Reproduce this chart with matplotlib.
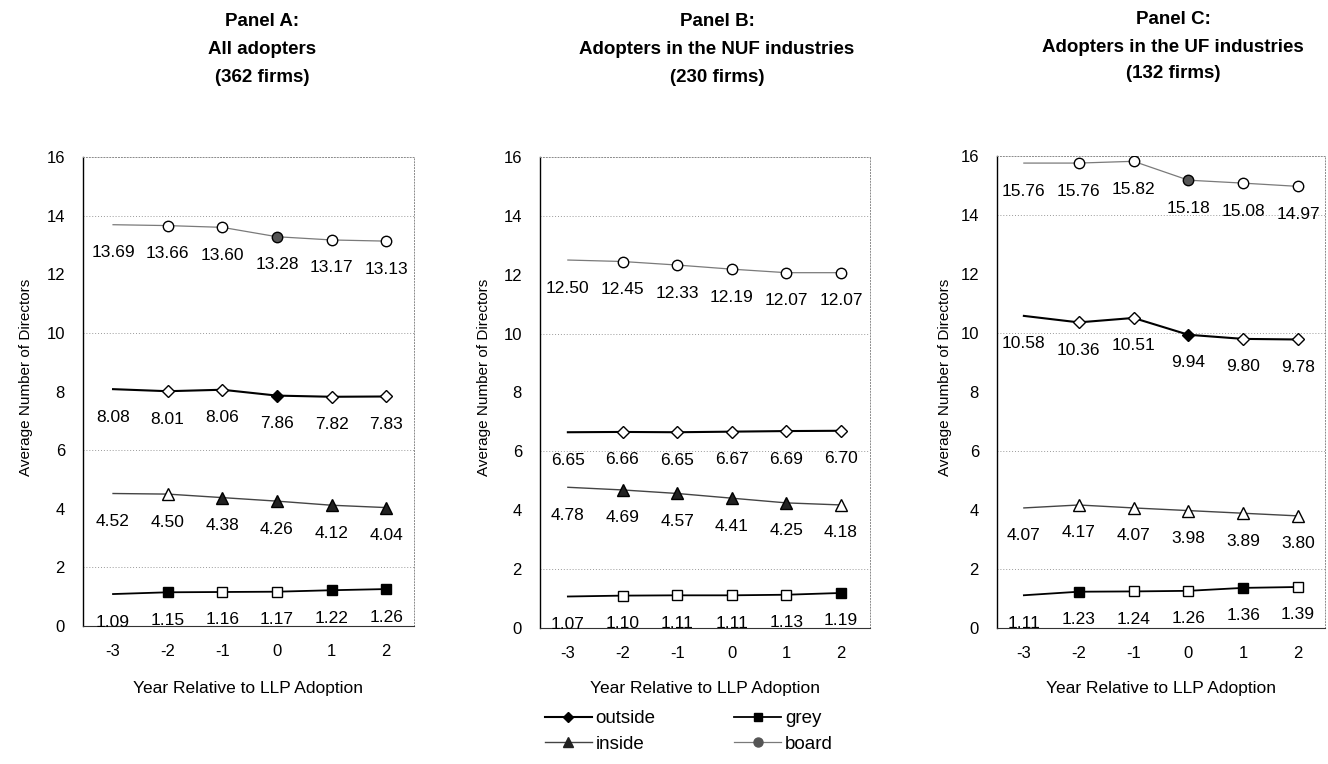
import matplotlib
matplotlib.use("Agg")
import matplotlib.pyplot as plt
from matplotlib.lines import Line2D

plt.rcParams['font.family'] = ['Liberation Sans', 'DejaVu Sans']

years = [-3, -2, -1, 0, 1, 2]
year_labels = ["-3", "-2", "-1", "0", "1", "2"]

titles = [["Panel A:", "All adopters", "(362 firms)"],
          ["Panel B:", "Adopters in the NUF industries", "(230 firms)"],
          ["Panel C:", "Adopters in the UF industries", "(132 firms)"]]

# Panel A: all adopters
a_board = [13.69, 13.66, 13.60, 13.28, 13.17, 13.13]
a_outside = [8.08, 8.01, 8.06, 7.86, 7.82, 7.83]
a_inside = [4.52, 4.50, 4.38, 4.26, 4.12, 4.04]
a_grey = [1.09, 1.15, 1.16, 1.17, 1.22, 1.26]
# Panel B: NUF industries
b_board = [12.50, 12.45, 12.33, 12.19, 12.07, 12.07]
b_outside = [6.65, 6.66, 6.65, 6.67, 6.69, 6.70]
b_inside = [4.78, 4.69, 4.57, 4.41, 4.25, 4.18]
b_grey = [1.07, 1.10, 1.11, 1.11, 1.13, 1.19]
# Panel C: UF industries
c_board = [15.76, 15.76, 15.82, 15.18, 15.08, 14.97]
c_outside = [10.58, 10.36, 10.51, 9.94, 9.80, 9.78]
c_inside = [4.07, 4.17, 4.07, 3.98, 3.89, 3.80]
c_grey = [1.11, 1.23, 1.24, 1.26, 1.36, 1.39]

# filled marker = significant difference (years -2..2; no marker at -3)
a_board_sig = [0, 0, 1, 0, 0]
a_outside_sig = [0, 0, 1, 0, 0]
a_inside_sig = [0, 1, 1, 1, 1]
a_grey_sig = [1, 0, 0, 1, 1]
b_board_sig = [0, 0, 0, 0, 0]
b_outside_sig = [0, 0, 0, 0, 0]
b_inside_sig = [1, 1, 1, 1, 0]
b_grey_sig = [0, 0, 0, 0, 1]
c_board_sig = [0, 0, 1, 0, 0]
c_outside_sig = [0, 0, 1, 0, 0]
c_inside_sig = [0, 0, 0, 0, 0]
c_grey_sig = [1, 0, 0, 1, 0]

panels = [
    dict(board=a_board, outside=a_outside, inside=a_inside, grey=a_grey,
         board_sig=a_board_sig, outside_sig=a_outside_sig, inside_sig=a_inside_sig, grey_sig=a_grey_sig),
    dict(board=b_board, outside=b_outside, inside=b_inside, grey=b_grey,
         board_sig=b_board_sig, outside_sig=b_outside_sig, inside_sig=b_inside_sig, grey_sig=b_grey_sig),
    dict(board=c_board, outside=c_outside, inside=c_inside, grey=c_grey,
         board_sig=c_board_sig, outside_sig=c_outside_sig, inside_sig=c_inside_sig, grey_sig=c_grey_sig),
]

styles = {
    'board':   dict(color='#7a7a7a', lw=0.9, marker='o', fill='#555555'),
    'outside': dict(color='black', lw=1.5, marker='D', fill='black'),
    'inside':  dict(color='#444444', lw=1.0, marker='^', fill='#222222'),
    'grey':    dict(color='black', lw=1.3, marker='s', fill='black'),
}
msize = {'board': 7.5, 'outside': 6.5, 'inside': 8, 'grey': 7}

W, H = 1328, 764
fig = plt.figure(figsize=(W / 100, H / 100), dpi=100)

# axes boxes in pixels: left, right, top, bottom
boxes = [(83, 414, 157, 626), (540, 870, 157, 628), (997, 1325, 156, 628)]
xlims = [(-3.55, 2.51), (-3.51, 2.53), (-3.49, 2.49)]
title_x = [262, 717, 1173]
title_y = [(22, 50, 78), (22, 50, 78), (20, 47, 73)]
ylabel_x = [26, 484, 945]
xlabel_x = [248, 705, 1161]

for i, (p, (l, r, t, b)) in enumerate(zip(panels, boxes)):
    ax = fig.add_axes([l / W, 1 - b / H, (r - l) / W, (b - t) / H])
    ax.set_xlim(*xlims[i])
    ax.set_ylim(0, 16)
    ax.set_yticks(range(0, 17, 2))
    ax.set_xticks(years)
    ax.set_xticklabels(year_labels)
    ax.tick_params(length=0, labelsize=12, colors='black')
    ax.tick_params(axis='y', pad=13)
    ax.tick_params(axis='x', pad=13)
    for yv in [2, 6, 10, 14]:
        ax.axhline(yv, color='#9a9a9a', lw=0.7, ls=(0, (1, 2)), zorder=0)
    ax.spines['left'].set_color('black')
    ax.spines['left'].set_linewidth(1.0)
    ax.spines['bottom'].set_color('#333333')
    ax.spines['bottom'].set_linewidth(0.8)
    for s in ['top', 'right']:
        ax.spines[s].set_color('#8a8a8a')
        ax.spines[s].set_linewidth(0.7)
        ax.spines[s].set_linestyle((0, (1, 2)))

    for key in ['board', 'outside', 'inside', 'grey']:
        st = styles[key]
        vals = p[key]
        sig = p[key + '_sig']
        ax.plot(years, vals, color=st['color'], lw=st['lw'], zorder=2)
        for xv, yv, s in zip(years[1:], vals[1:], sig):
            ax.plot([xv], [yv], marker=st['marker'], ms=msize[key],
                    mfc=st['fill'] if s else 'white', mec='black', mew=1.0,
                    ls='none', zorder=3)
        for xv, yv in zip(years, vals):
            ax.annotate(f"{yv:.2f}", (xv, yv), textcoords='offset pixels',
                        xytext=(0, -28), ha='center', va='center', fontsize=12.5)

    fig.text(ylabel_x[i] / W, 1 - 377 / H, "Average Number of Directors",
             rotation=90, ha='center', va='center', fontsize=11)
    fig.text(xlabel_x[i] / W, 1 - 688 / H, "Year Relative to LLP Adoption",
             ha='center', va='center', fontsize=12.5)
    for line, ty in zip(titles[i], title_y[i]):
        fig.text(title_x[i] / W, 1 - ty / H, line, ha='center', va='center',
                 fontsize=13.5, fontweight='bold')

handles = []
labels = []
for key in ['outside', 'inside', 'grey', 'board']:
    st = styles[key]
    handles.append(Line2D([0], [0], color=st['color'], lw=st['lw'],
                          marker=st['marker'], ms=msize[key] - 1,
                          mfc=st['fill'], mec=st['fill']))
    labels.append(key)
fig.legend(handles, labels, ncol=2, loc='upper left',
           bbox_to_anchor=(545 / W, 1 - 710 / H), frameon=False,
           fontsize=13.5, handlelength=2.5, handletextpad=0.2,
           columnspacing=4.2, labelspacing=0.45, borderaxespad=0, borderpad=0)

fig.savefig("out.png", dpi=100)
